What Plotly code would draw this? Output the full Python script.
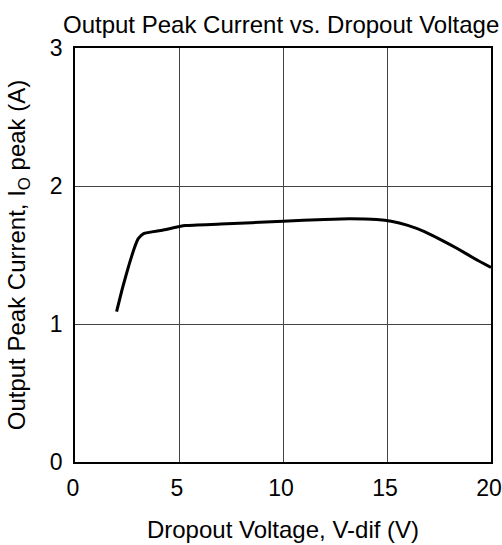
import plotly.graph_objects as go

# Data
dropout_v = [2.0, 2.3, 2.6, 2.9, 3.05, 3.3, 4.2, 5.3, 7.0, 10.0, 12.0, 13.2, 14.5, 15.2, 16.0, 16.8, 17.6, 18.4, 19.2, 20.0]
peak_current = [1.09, 1.27, 1.43, 1.57, 1.62, 1.655, 1.68, 1.713, 1.724, 1.745, 1.757, 1.762, 1.757, 1.745, 1.715, 1.67, 1.61, 1.545, 1.475, 1.41]

x_ticks = [0, 5, 10, 15, 20]
y_ticks = [0, 1, 2, 3]

font_family = "Liberation Sans, Arial, sans-serif"

fig = go.Figure()
fig.add_trace(go.Scatter(
    x=dropout_v, y=peak_current, mode="lines",
    line=dict(color="black", width=3, shape="spline", smoothing=0.5),
    showlegend=False, hoverinfo="skip",
))

fig.update_layout(
    width=502, height=545,
    margin=dict(l=75, r=11, t=48, b=83),
    paper_bgcolor="white", plot_bgcolor="white",
    font=dict(family=font_family, size=23, color="black"),
    title=dict(text="Output Peak Current vs. Dropout Voltage",
               x=0.56, xanchor="center", y=0.971, yanchor="top",
               font=dict(size=24, color="black")),
)

fig.update_xaxes(
    range=[0, 20], tickvals=x_ticks, ticktext=[str(v) for v in x_ticks],
    showgrid=True, gridcolor="#444444", gridwidth=1,
    showline=True, linecolor="black", linewidth=1.5, mirror=True,
    ticks="", ticklabelstandoff=5, ticklabelshift=-2, ticklabeloverflow="allow",
    zeroline=False, automargin=False,
    title=dict(text="Dropout Voltage, V-dif (V)", standoff=21,
               font=dict(size=24)),
    tickfont=dict(size=23),
)
fig.update_yaxes(
    range=[0, 3], tickvals=y_ticks, ticktext=[str(v) for v in y_ticks],
    showgrid=True, gridcolor="#444444", gridwidth=1,
    showline=True, linecolor="black", linewidth=1.5, mirror=True,
    ticks="", ticklabelstandoff=6, ticklabeloverflow="allow",
    zeroline=False, automargin=False,
    title=dict(text="Output Peak Current, I<sub>O</sub> peak (A)", standoff=17,
               font=dict(size=24)),
    tickfont=dict(size=23),
)

fig.write_html(
    "out.html",
    config={"displayModeBar": False},
    post_script="document.body.style.margin='0';document.body.style.overflow='hidden';",
)
